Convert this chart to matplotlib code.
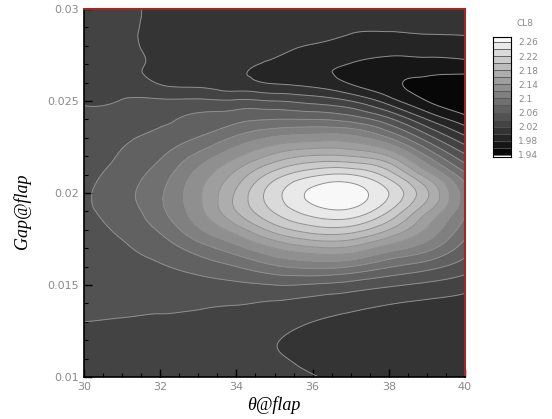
import numpy as np
import matplotlib
matplotlib.use("Agg")
import matplotlib.pyplot as plt
import matplotlib.tri as mtri
from matplotlib.ticker import MultipleLocator, FormatStrFormatter

# grid: one list per theta column, gap 0.010 -> 0.030
theta = [30, 31, 32, 33, 34, 35, 36, 37, 38, 39, 40]
gap = [0.010, 0.011, 0.012, 0.013, 0.014, 0.015, 0.016, 0.017, 0.018, 0.019, 0.020,
       0.021, 0.022, 0.023, 0.024, 0.025, 0.026, 0.027, 0.028, 0.029, 0.030]
cl8 = [
    [2.031, 2.033, 2.036, 2.040, 2.044, 2.048, 2.052, 2.054, 2.056, 2.057, 2.057,
     2.055, 2.052, 2.048, 2.043, 2.039, 2.036, 2.032, 2.029, 2.027, 2.025],
    [2.032, 2.034, 2.036, 2.039, 2.044, 2.049, 2.054, 2.058, 2.063, 2.069, 2.073,
     2.068, 2.062, 2.056, 2.048, 2.041, 2.029, 2.0245, 2.0235, 2.0235, 2.024],
    [2.031, 2.033, 2.035, 2.038, 2.043, 2.049, 2.058, 2.069, 2.083, 2.095, 2.097,
     2.090, 2.078, 2.067, 2.056, 2.043, 2.018, 2.015, 2.014, 2.014, 2.014],
    [2.030, 2.031, 2.033, 2.037, 2.042, 2.052, 2.068, 2.090, 2.117, 2.133, 2.136,
     2.127, 2.106, 2.081, 2.065, 2.044, 2.014, 2.011, 2.011, 2.011, 2.011],
    [2.028, 2.028, 2.030, 2.034, 2.041, 2.056, 2.080, 2.113, 2.150, 2.180, 2.183,
     2.166, 2.137, 2.104, 2.074, 2.043, 2.006, 2.004, 2.006, 2.010, 2.012],
    [2.025, 2.022, 2.021, 2.028, 2.038, 2.060, 2.097, 2.140, 2.188, 2.222, 2.232,
     2.209, 2.166, 2.123, 2.080, 2.040, 1.998, 1.996, 2.004, 2.009, 2.012],
    [2.021, 2.016, 2.015, 2.020, 2.033, 2.058, 2.105, 2.156, 2.210, 2.250, 2.265,
     2.235, 2.182, 2.130, 2.080, 2.033, 1.992, 1.986, 1.999, 2.006, 2.010],
    [2.012, 2.010, 2.010, 2.014, 2.027, 2.052, 2.100, 2.155, 2.210, 2.255, 2.270,
     2.240, 2.180, 2.128, 2.072, 2.020, 1.978, 1.979, 1.993, 2.003, 2.008],
    [2.008, 2.007, 2.007, 2.010, 2.021, 2.043, 2.082, 2.130, 2.180, 2.220, 2.240,
     2.210, 2.160, 2.100, 2.045, 1.990, 1.965, 1.972, 1.990, 2.002, 2.008],
    [2.006, 2.005, 2.005, 2.008, 2.017, 2.036, 2.068, 2.107, 2.137, 2.163, 2.183,
     2.150, 2.100, 2.050, 2.000, 1.960, 1.955, 1.972, 1.992, 2.003, 2.009],
    [2.005, 2.004, 2.005, 2.007, 2.013, 2.028, 2.050, 2.070, 2.090, 2.105, 2.110,
     2.085, 2.045, 2.005, 1.968, 1.946, 1.950, 1.974, 1.993, 2.004, 2.010],
]
levels = [1.94, 1.96, 1.98, 2.00, 2.02, 2.04, 2.06, 2.08, 2.10, 2.12, 2.14,
          2.16, 2.18, 2.20, 2.22, 2.24, 2.26, 2.28]
cbar_ticks = [1.94, 1.98, 2.02, 2.06, 2.10, 2.14, 2.18, 2.22, 2.26]

z = np.array(cl8).T
X, Y = np.meshgrid(theta, np.array(gap) * 1000)
tri = mtri.Triangulation(X.ravel(), Y.ravel())
interp = mtri.CubicTriInterpolator(tri, z.ravel(), kind="min_E")
refiner = mtri.UniformTriRefiner(tri)
tri_f, z_f = refiner.refine_field(z.ravel(), triinterpolator=interp, subdiv=4)
tri_plot = mtri.Triangulation(tri_f.x, tri_f.y / 1000, tri_f.triangles)

fig = plt.figure(figsize=(5.52, 4.19), dpi=100)
ax = fig.add_axes([84 / 552, 42 / 419, 381 / 552, 368 / 419])

cmap = plt.get_cmap("gray")
ax.tricontourf(tri_plot, z_f, levels=levels, cmap=cmap, vmin=1.94, vmax=2.28, extend="both")
ax.tricontour(tri_plot, z_f, levels=levels, colors="#8f8f8f", linewidths=0.7)

ax.set_xlim(30, 40)
ax.set_ylim(0.01, 0.03)
ax.xaxis.set_major_locator(MultipleLocator(2))
ax.xaxis.set_minor_locator(MultipleLocator(0.5))
ax.yaxis.set_major_locator(MultipleLocator(0.005))
ax.yaxis.set_minor_locator(MultipleLocator(0.001))
ax.yaxis.set_major_formatter(FormatStrFormatter("%g"))
ax.tick_params(which="major", direction="in", length=6, width=1, colors="black",
               labelcolor="#8a8a8a", labelsize=8, top=False, right=False)
ax.tick_params(which="minor", direction="in", length=3, width=0.8, top=False, right=False)
for s in ["left", "bottom"]:
    ax.spines[s].set_color("black")
    ax.spines[s].set_linewidth(1.2)
for s in ["top", "right"]:
    ax.spines[s].set_color("#a02828")
    ax.spines[s].set_linewidth(1.5)

fig.text(274 / 552, 1 - 405 / 419, "θ@flap", ha="center", va="center",
         family="Liberation Serif", style="italic", fontsize=13)
fig.text(22 / 552, 1 - 211 / 419, "Gap@flap", ha="center", va="center", rotation=90,
         family="Liberation Serif", style="italic", fontsize=13)

# legend bar
cax = fig.add_axes([493 / 552, 1 - 157 / 419, 18 / 552, 120 / 419])
mids = [(levels[i] + levels[i + 1]) / 2 for i in range(len(levels) - 1)]
cax.pcolormesh([0, 1], levels, np.array(mids)[:, None], cmap=cmap, vmin=1.94, vmax=2.28)
cax.hlines(levels, 0, 1, colors="#555555", linewidths=0.6)
cax.set_xlim(0, 1)
cax.set_ylim(1.934, 2.274)
cax.set_xticks([])
cax.set_yticks(cbar_ticks)
cax.yaxis.set_major_formatter(FormatStrFormatter("%g"))
cax.yaxis.tick_right()
cax.tick_params(length=0, labelsize=6.5, labelcolor="#8a8a8a", pad=5)
for s in cax.spines.values():
    s.set_linewidth(0.8)
fig.text(525 / 552, 1 - 23 / 419, "CL8", ha="center", va="center", fontsize=6.5, color="#8a8a8a")

fig.savefig("out.png", dpi=100)
